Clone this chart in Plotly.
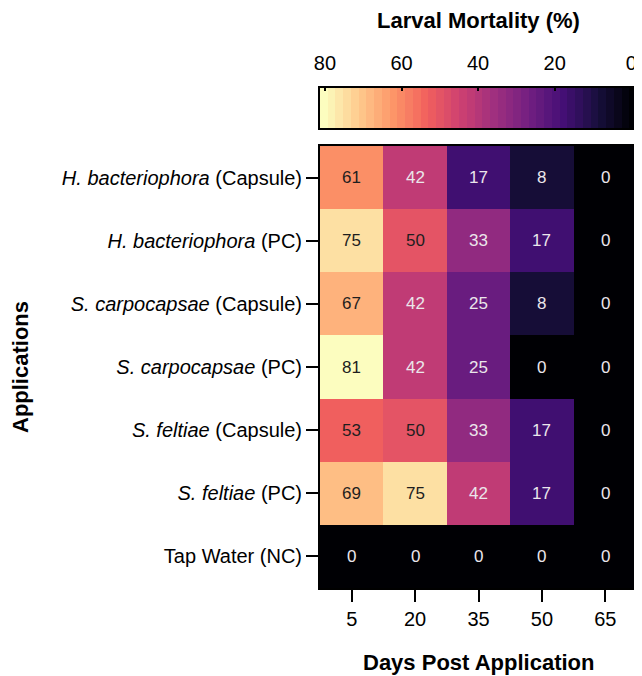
import numpy as np
import plotly.graph_objects as go

days = ["5", "20", "35", "50", "65"]
applications = [
    "H. bacteriophora (Capsule)",
    "H. bacteriophora (PC)",
    "S. carpocapsae (Capsule)",
    "S. carpocapsae (PC)",
    "S. feltiae (Capsule)",
    "S. feltiae (PC)",
    "Tap Water (NC)",
]
app_labels = [
    "<i>H. bacteriophora</i> (Capsule)",
    "<i>H. bacteriophora</i> (PC)",
    "<i>S. carpocapsae</i> (Capsule)",
    "<i>S. carpocapsae</i> (PC)",
    "<i>S. feltiae</i> (Capsule)",
    "<i>S. feltiae</i> (PC)",
    "Tap Water (NC)",
]
mortality = [
    [61, 42, 17, 8, 0],
    [75, 50, 33, 17, 0],
    [67, 42, 25, 8, 0],
    [81, 42, 25, 0, 0],
    [53, 50, 33, 17, 0],
    [69, 75, 42, 17, 0],
    [0, 0, 0, 0, 0],
]
cbar_ticks = [80, 60, 40, 20, 0]

ZMIN, ZMAX = 0, 80
FONT = "Liberation Sans, Arial, sans-serif"

xi = list(range(len(days)))
yi = list(range(len(applications)))

fig = go.Figure()
fig.add_trace(go.Heatmap(
    x=xi, y=yi, z=mortality,
    colorscale="Magma", zmin=ZMIN, zmax=ZMAX, showscale=False,
    customdata=[[a] * len(days) for a in applications],
    hovertemplate="%{customdata}<br>Day %{x}: %{z}%<extra></extra>",
))

# colour key as a gradient strip on its own axes (reversed: 80 -> 0)
edges = np.linspace(-1.5, 81.3, 42)
mids = (edges[:-1] + edges[1:]) / 2
fig.add_trace(go.Heatmap(
    x=edges, y=[0, 1], z=[mids],
    colorscale="Magma", zmin=ZMIN, zmax=ZMAX, showscale=False,
    xaxis="x2", yaxis="y2", hoverinfo="skip",
))

for i in yi:
    for j in xi:
        v = mortality[i][j]
        fig.add_annotation(
            x=j, y=i, text=str(v), showarrow=False,
            font=dict(size=17, family=FONT,
                      color="#1e1e1e" if v >= 45 else "#ebe6eb"),
        )

fig.add_annotation(
    x=0.5, xref="x domain", y=1.0, yref="paper", yanchor="middle",
    text="<b>Larval Mortality (%)</b>", showarrow=False,
    font=dict(size=22, family=FONT, color="black"), yshift=28,
)
fig.add_annotation(
    x=0.5, xref="x domain", y=0, yref="paper", yanchor="middle",
    text="<b>Days Post Application</b>", showarrow=False,
    font=dict(size=22, family=FONT, color="black"), yshift=-74,
)
fig.add_annotation(
    x=0, xref="x domain", y=0.5, yref="y domain", xanchor="center",
    text="<b>Applications</b>", showarrow=False, textangle=-90,
    font=dict(size=22, family=FONT, color="black"), xshift=-300,
)

fig.update_layout(
    width=642, height=676,
    margin=dict(l=312, r=13, t=40, b=96, autoexpand=False),
    paper_bgcolor="white", plot_bgcolor="black",
    font=dict(family=FONT, color="black"),
    showlegend=False,
    xaxis=dict(
        domain=[0, 1], range=[-0.5, len(days) - 0.5], automargin=False,
        tickvals=xi, ticktext=days,
        ticks="outside", ticklen=12, tickwidth=2, tickcolor="black",
        tickfont=dict(size=20), showline=True, linecolor="black",
        linewidth=2, mirror=True, showgrid=False, zeroline=False,
    ),
    yaxis=dict(
        domain=[0, 0.8185], range=[len(applications) - 0.5, -0.5],
        automargin=False, tickvals=yi, ticktext=app_labels,
        ticks="outside", ticklen=12, tickwidth=2, tickcolor="black",
        tickfont=dict(size=20), showline=True, linecolor="black",
        linewidth=2, mirror=True, showgrid=False, zeroline=False,
    ),
    xaxis2=dict(
        domain=[0, 1], anchor="y2", range=[81.3, -1.5], side="top",
        automargin=False,
        tickvals=cbar_ticks, ticks="inside", ticklen=3, tickwidth=2,
        tickcolor="black", tickfont=dict(size=20), ticklabelstandoff=8,
        showline=True, linecolor="black", linewidth=2, mirror=True,
        showgrid=False, zeroline=False,
    ),
    yaxis2=dict(
        domain=[0.8519, 0.9259], anchor="x2", range=[0, 1],
        automargin=False,
        showticklabels=False, ticks="", showline=True, linecolor="black",
        linewidth=2, mirror=True, showgrid=False, zeroline=False,
    ),
)

fig.write_html("out.html")
